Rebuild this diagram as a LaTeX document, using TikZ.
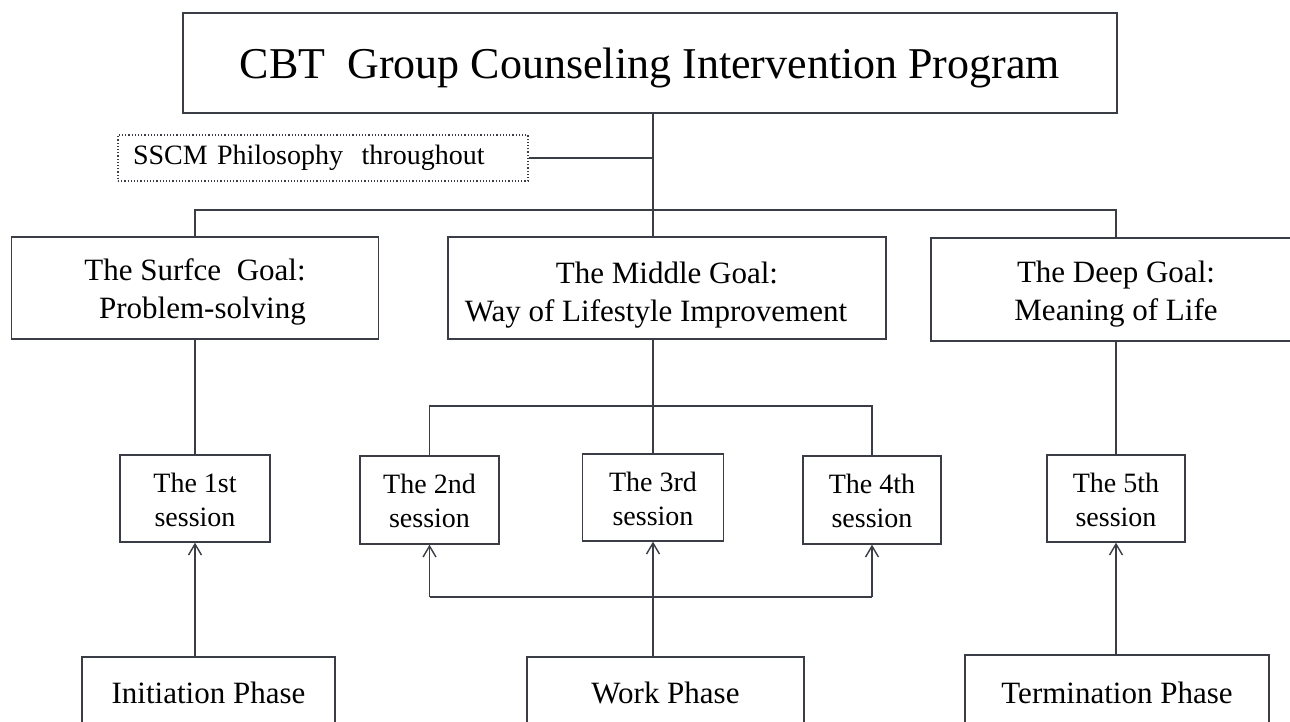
\documentclass[tikz,border=0pt]{standalone}
\usepackage{fontspec}
\setmainfont{Liberation Serif}
\usetikzlibrary{arrows.meta}
\definecolor{ln}{HTML}{3A3D45}
\newcommand{\twol}[3]{\raisebox{#1}[\height][\depth]{\begin{tabular}{@{}c@{}}#2\\#3\end{tabular}}}
\newcommand{\onel}[2]{\raisebox{#1}[\height][\depth]{#2}}
\tikzset{
  box/.style={draw=ln, line width=1.4pt, rectangle, inner sep=0pt, align=center, text=black},
  conn/.style={draw=ln, line width=1.4pt},
  arr/.style={conn, -{Straight Barb[length=11pt,width=13pt,line width=1.4pt]}},
  dotbox/.style={draw=ln, line width=1.2pt, dotted, rectangle, inner sep=0pt, text=black},
  goalfont/.style={font=\fontsize{31}{38}\selectfont},
  sessfont/.style={font=\fontsize{28}{34}\selectfont},
  phasefont/.style={font=\fontsize{31}{37}\selectfont}
}
\begin{document}
\begin{tikzpicture}[x=1pt,y=-1pt]
\clip (0,0) rectangle (1290,722);
\fill[white] (0,0) rectangle (1290,722);
% top
\node[box, minimum width=934pt, minimum height=100pt, font=\fontsize{44}{52}\selectfont] (title) at (650,63) {\onel{-5pt}{CBT\ \ Group Counseling Intervention Program}};
\node[dotbox, minimum width=410pt, minimum height=46pt, text width=380pt, align=left, font=\fontsize{28}{32}\selectfont] (sscm) at (323,158) {SSCM Philosophy\ \ throughout};
\coordinate (hub) at (653,210);
% goals
\node[box, goalfont, minimum width=367pt, minimum height=102pt] (surface) at (195,288) {\twol{-3.5pt}{The Surfce\ \ Goal:}{\hspace*{15pt}Problem-solving}};
\node[box, goalfont, minimum width=438pt, minimum height=102pt] (middle) at (667,288) {\twol{-7pt}{The Middle Goal:}{Way of Lifestyle Improvement\hspace*{22pt}}};
\node[box, goalfont, minimum width=370pt, minimum height=103pt] (deep) at (1116,289.5) {\twol{-4pt}{The Deep Goal:}{Meaning of Life}};
% sessions
\node[box, sessfont, minimum width=150pt, minimum height=87pt] (s1) at (195,498.5) {\twol{-4pt}{The 1st}{session}};
\node[box, sessfont, minimum width=139pt, minimum height=88pt] (s2) at (429.5,500) {\twol{-4pt}{The 2nd}{session}};
\node[box, sessfont, minimum width=141pt, minimum height=87pt] (s3) at (653,497.5) {\twol{-4pt}{The 3rd}{session}};
\node[box, sessfont, minimum width=138pt, minimum height=88pt] (s4) at (872,500) {\twol{-4pt}{The 4th}{session}};
\node[box, sessfont, minimum width=138pt, minimum height=87pt] (s5) at (1116,498.5) {\twol{-4pt}{The 5th}{session}};
% phases
\node[box, phasefont, minimum width=253pt, minimum height=72pt] (init) at (208.5,693) {Initiation Phase};
\node[box, phasefont, minimum width=277pt, minimum height=72pt] (work) at (665.5,693) {Work Phase};
\node[box, phasefont, minimum width=304pt, minimum height=76pt] (term) at (1117,693) {Termination Phase};
\coordinate (br) at (0,406);
\coordinate (bb) at (0,597);
% connectors
\draw[conn] (title.south -| hub) -- (hub);
\draw[conn] (sscm.east) -- (sscm.east -| hub);
\draw[conn] (surface.north) -- (surface.north |- hub) -- (deep.north |- hub) -- (deep.north);
\draw[conn] (hub) -- (middle.north -| hub);
\draw[conn] (surface.south) -- (s1.north);
\draw[conn] (middle.south -| s3) -- (s3.north);
\draw[conn] (deep.south) -- (s5.north);
\draw[conn] (s2.north) -- (s2.north |- br) -- (s4.north |- br) -- (s4.north);
\draw[arr] (s2.south |- bb) -- (s2.south);
\draw[conn] (s2.south |- bb) -- (s4.south |- bb);
\draw[arr] (s4.south |- bb) -- (s4.south);
\draw[arr] (init.north -| s1) -- (s1.south);
\draw[arr] (work.north -| s3) -- (s3.south);
\draw[arr] (term.north -| s5) -- (s5.south);
\end{tikzpicture}
\end{document}
